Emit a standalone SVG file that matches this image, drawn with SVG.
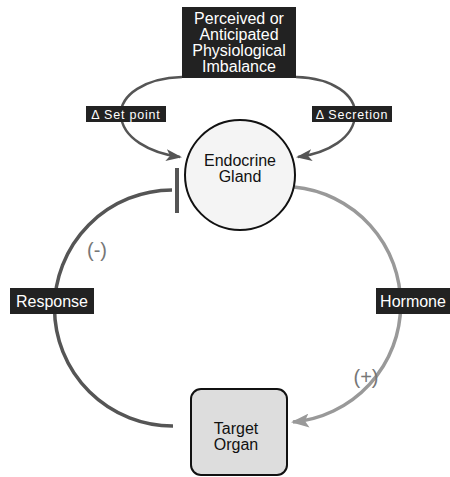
<svg xmlns="http://www.w3.org/2000/svg" width="450" height="477" viewBox="0 0 450 477">
<style>
text{font-family:"Liberation Sans",Arial,sans-serif;}
.lbl{fill:#222;}
.lt{fill:#fff;font-size:12.5px;text-anchor:middle;letter-spacing:0.8px;}
.bt{fill:#fff;font-size:16px;text-anchor:middle;}
.nt{fill:#111;font-size:16px;text-anchor:middle;}
.sign{fill:#777;font-size:20px;text-anchor:middle;}
</style>
<defs>
<marker id="ad" markerWidth="16" markerHeight="12" refX="14" refY="6" orient="auto" markerUnits="userSpaceOnUse">
<path d="M0,0 L16,6 L0,12 L4,6 Z" fill="#555"/>
</marker>
<marker id="ag" markerWidth="18" markerHeight="14" refX="16" refY="7" orient="auto" markerUnits="userSpaceOnUse">
<path d="M0,0 L18,7 L0,14 L4,7 Z" fill="#999"/>
</marker>
</defs>
<g id="connectors" fill="none">
<path d="M182,77 C145,78 120,95 121,115 C122,138 150,153 180,157" stroke="#555" stroke-width="2.5" marker-end="url(#ad)"/>
<path d="M296,77 C333,78 356,95 355,115 C354,138 328,153 298,157" stroke="#555" stroke-width="2.5" marker-end="url(#ad)"/>
<path d="M173,426 A118,118 0 0 1 172,190" stroke="#555" stroke-width="3.5"/>
<line x1="177" y1="168" x2="177" y2="213" stroke="#555" stroke-width="4"/>
<path d="M294,187 A118,118 0 0 1 293,422" stroke="#999" stroke-width="3.5" marker-end="url(#ag)"/>
</g>
<g id="imbalance">
<rect x="182" y="7" width="114" height="71" class="lbl"/>
<text class="bt" x="239" y="24">Perceived or</text>
<text class="bt" x="239" y="40">Anticipated</text>
<text class="bt" x="239" y="56">Physiological</text>
<text class="bt" x="239" y="72">Imbalance</text>
</g>
<g id="setpoint">
<rect x="86" y="106" width="80" height="16" class="lbl"/>
<text class="lt" x="126" y="118.5">Δ Set point</text>
</g>
<g id="secretion">
<rect x="312" y="106" width="80" height="16" class="lbl"/>
<text class="lt" x="352" y="118.5">Δ Secretion</text>
</g>
<g id="gland">
<circle cx="240" cy="175" r="55" fill="#f4f4f4" stroke="#111" stroke-width="2"/>
<text class="nt" x="240" y="166">Endocrine</text>
<text class="nt" x="240" y="182">Gland</text>
</g>
<g id="neg">
<text class="sign" x="97" y="257">(-)</text>
</g>
<g id="response">
<rect x="10" y="288" width="84" height="26" class="lbl"/>
<text class="bt" x="52" y="307">Response</text>
</g>
<g id="hormone">
<rect x="376" y="288" width="74" height="26" class="lbl"/>
<text class="bt" x="413" y="307">Hormone</text>
</g>
<g id="pos">
<text class="sign" x="366" y="384">(+)</text>
</g>
<g id="target">
<rect x="191" y="389" width="96" height="86" rx="10" fill="#ddd" stroke="#111" stroke-width="2"/>
<text class="nt" x="236" y="434">Target</text>
<text class="nt" x="236" y="450">Organ</text>
</g>
</svg>
